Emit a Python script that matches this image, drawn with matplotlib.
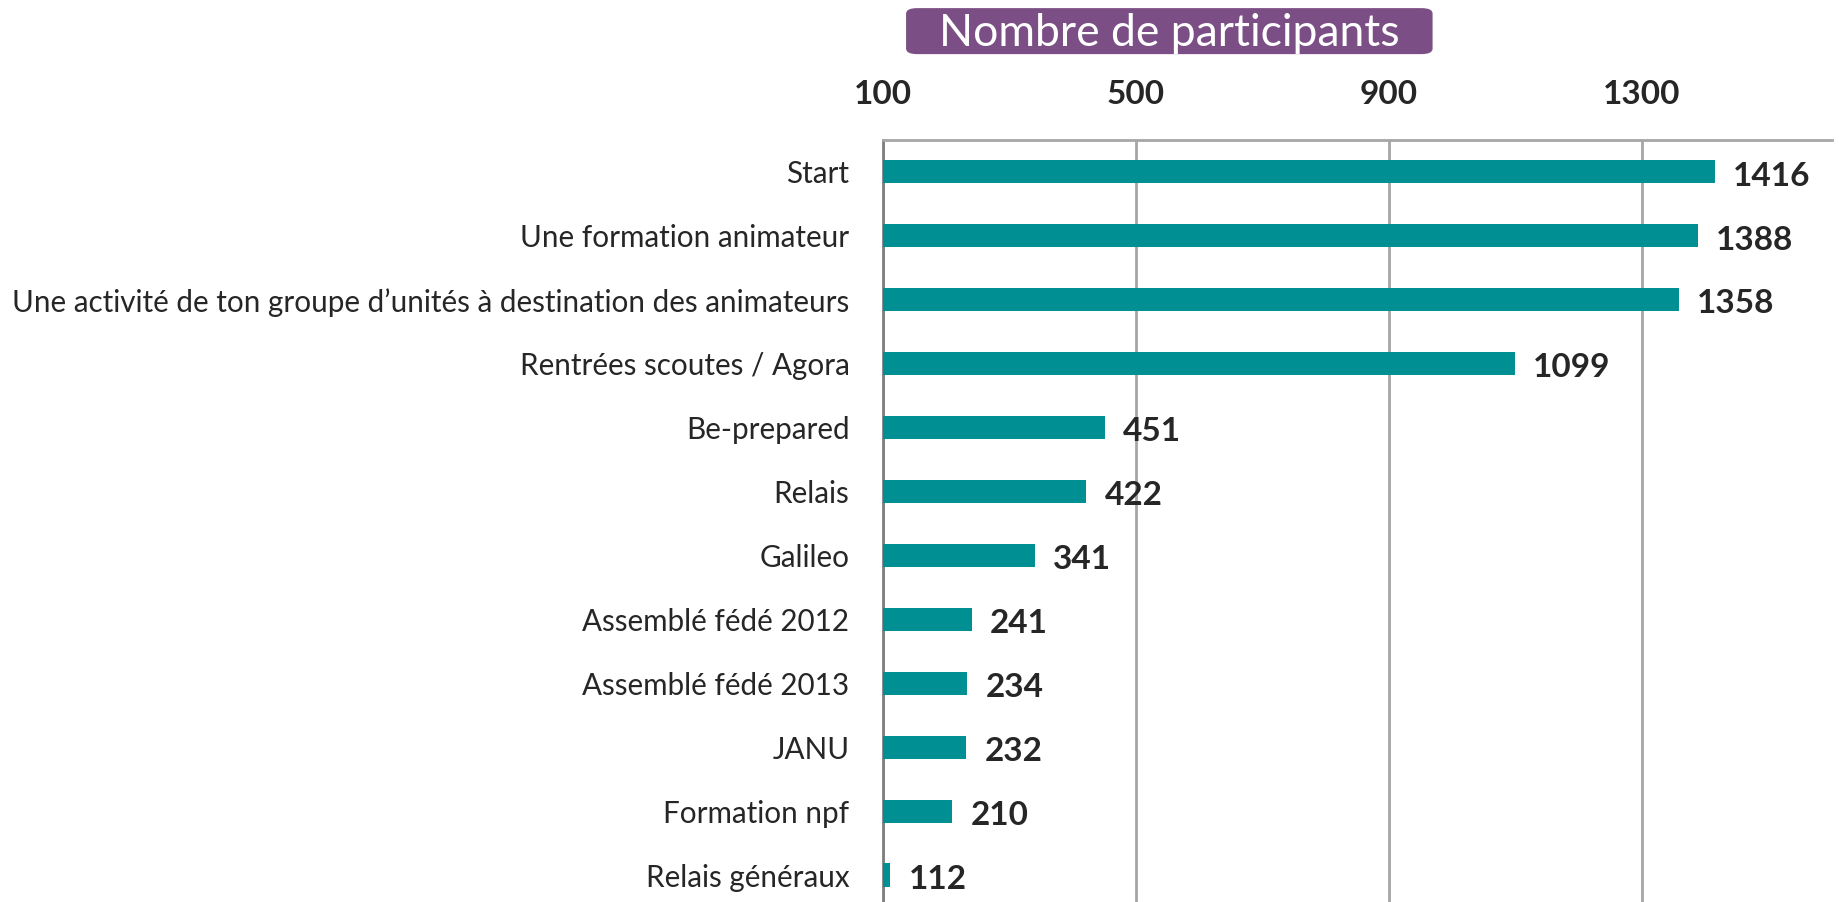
import matplotlib.pyplot as plt
from matplotlib.patches import FancyBboxPatch

categories = [
    "Start",
    "Une formation animateur",
    "Une activité de ton groupe d’unités à destination des animateurs",
    "Rentrées scoutes / Agora",
    "Be-prepared",
    "Relais",
    "Galileo",
    "Assemblé fédé 2012",
    "Assemblé fédé 2013",
    "JANU",
    "Formation npf",
    "Relais généraux",
]
participants = [1416, 1388, 1358, 1099, 451, 422, 341, 241, 234, 232, 210, 112]
tick_values = [100, 500, 900, 1300]

plt.rcParams['font.family'] = ['Lato', 'DejaVu Sans']

fig = plt.figure(figsize=(18.39, 9.02), dpi=100)
ax = fig.add_axes([0.480, -0.0055, 0.516, 0.8503])

y = list(range(len(categories)))
ax.barh(y, participants, height=0.36, color='#008F93', zorder=3)
ax.set_ylim(len(categories) - 0.5, -0.5)
ax.set_xlim(100, 1600)

ax.set_yticks(y)
ax.set_yticklabels(categories, fontsize=21.35, color='#262626')
ax.set_xticks(tick_values)
ax.set_xticklabels([str(v) for v in tick_values], fontsize=24,
                   fontweight='bold', color='#262626')
ax.xaxis.tick_top()
ax.tick_params(axis='x', length=0, pad=22)
ax.tick_params(axis='y', length=0, pad=24)

ax.grid(axis='x', color='#A6A6A6', linewidth=2, zorder=0)
for side in ['right', 'bottom']:
    ax.spines[side].set_visible(False)
ax.spines['top'].set_color('#A6A6A6')
ax.spines['top'].set_linewidth(2)
ax.spines['left'].set_color('#7F7F7F')
ax.spines['left'].set_linewidth(2)

for yi, v in zip(y, participants):
    ax.annotate(str(v), xy=(v, yi), xytext=(13, -3), textcoords='offset points',
                ha='left', va='center', fontsize=24, fontweight='bold',
                color='#262626')

# title box
box = FancyBboxPatch((0.4927, 0.940), 0.2863, 0.051,
                     boxstyle='round,pad=0,rounding_size=0.006',
                     transform=fig.transFigure, facecolor='#7B4F85',
                     edgecolor='none')
fig.patches.append(box)
fig.text(0.6359, 0.963, "Nombre de participants", ha='center', va='center',
         fontsize=32, fontweight='normal', color='white')

fig.savefig('out.png', dpi=100)
